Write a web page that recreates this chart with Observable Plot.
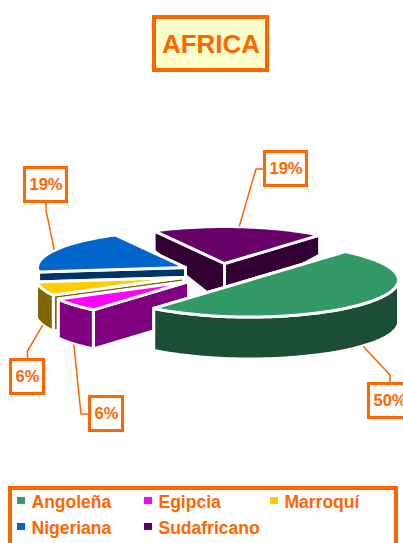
<!DOCTYPE html>
<html><head><meta charset="utf-8">
<script src="https://cdn.jsdelivr.net/npm/d3@7"></script>
<script src="https://cdn.jsdelivr.net/npm/@observablehq/plot@0.6"></script>
<style>html,body{margin:0;padding:0;background:#fff;overflow:hidden}svg{display:block}</style>
</head><body><div id="chart"></div>
<script>
const title = "AFRICA";
const categories = ["Angoleña","Egipcia","Marroquí","Nigeriana","Sudafricano"];
const shares = [50,6,6,19,19];
const topColors = ["#339966","#FF00FF","#FFCC00","#0066CC","#660066"];
const wallColors = ["#1C4E36","#800080","#806600","#003366","#330033"];
const orange = "#FF6600";

// exploded-pie placement of each slice
const apexX = [249,188,183,185,224];
const apexY = [279.5,281,277,267,263];
const rimDepth = [42,39,36,30,20];
const apexDepth = [42,39,36,30,43];
const radiusXs = [149,148,148,148,148];
const radiusY = 37, startDeg = 50;

// data-label boxes
const labelX = [389.5,106,27,45.5,285.5];
const labelY = [400.5,413.5,376.5,184.5,168.5];
const labelSide = ["top","left","top","bottom","left"];

const rad = d => d*Math.PI/180;
let cum = 0;
const slices = categories.map((name,i)=>{
  const t0 = startDeg - cum*3.6; cum += shares[i];
  const t1 = startDeg - cum*3.6;
  return {name,i,t0,t1};
});
const rim = (s,t,dy=0)=>({x:apexX[s.i]+radiusXs[s.i]*Math.cos(rad(t)), y:apexY[s.i]-radiusY*Math.sin(rad(t))+dy});
const arc = (s,a,b,dy=0)=>{const n=Math.max(2,Math.ceil(Math.abs(b-a)/2)+1);return d3.range(n).map(k=>rim(s,a+(b-a)*k/(n-1),dy));};
const poly = (pts,fill)=>Plot.line([...pts,pts[0]],{x:"x",y:"y",fill,stroke:"#fff",strokeWidth:3,strokeLinejoin:"round"});

const marks = [];
[...slices].reverse().forEach(s=>{
  const i=s.i, ax=apexX[i], ay=apexY[i], rd=rimDepth[i], ad=apexDepth[i];
  [s.t1,s.t0].forEach(t=>{
    const r=rim(s,t);
    marks.push(poly([{x:ax,y:ay},r,{x:r.x,y:r.y+rd},{x:ax,y:ay+ad}],wallColors[i]));
  });
  const from=Math.max(s.t1,-180), to=Math.min(s.t0,0);
  if(from<to) marks.push(poly([...arc(s,from,to),...arc(s,to,from,rd)],wallColors[i]));
  marks.push(poly([{x:ax,y:ay},...arc(s,s.t0,s.t1)],topColors[i]));
});

// labels and leaders
const boxW = v=> v>=10?42:33, boxH = 34;
slices.forEach(s=>{
  const i=s.i, mid=(s.t0+s.t1)/2, front=Math.sin(rad(mid))<0;
  const a=rim(s,mid,front?rimDepth[i]+1:-1);
  const w=boxW(shares[i]), lx=labelX[i], ly=labelY[i];
  const edge=labelSide[i]==="top"?{x:lx,y:ly-boxH/2}:labelSide[i]==="bottom"?{x:lx,y:ly+boxH/2}:{x:lx-w/2,y:ly};
  const elbow=labelSide[i]==="top"?{x:edge.x,y:edge.y-9}:labelSide[i]==="bottom"?{x:edge.x,y:edge.y+8}:{x:edge.x-9,y:edge.y};
  marks.push(Plot.line([a,elbow,edge],{x:"x",y:"y",stroke:orange,strokeWidth:1.5}));
  marks.push(Plot.rect([{}],{x1:lx-w/2,x2:lx+w/2,y1:ly-boxH/2,y2:ly+boxH/2,fill:"#fff",stroke:orange,strokeWidth:3}));
  marks.push(Plot.text([shares[i]+"%"],{x:lx,y:ly,text:d=>d,fill:orange,fontSize:16.5,fontWeight:"bold",fontFamily:"Liberation Sans",lineAnchor:"middle"}));
});

// title
marks.push(Plot.rect([{}],{x1:154,x2:267,y1:17,y2:70,fill:"#FFFFCC",stroke:orange,strokeWidth:4}));
marks.push(Plot.text([title],{x:210.5,y:44,text:d=>d,fill:orange,fontSize:26,fontWeight:"bold",fontFamily:"Liberation Sans",lineAnchor:"middle"}));

// legend
const legendColX=[17,144,270], legendRowY=[500.5,526.5];
marks.push(Plot.rect([{}],{x1:10,x2:396,y1:488,y2:565,fill:"#fff",stroke:orange,strokeWidth:4}));
const legend=slices.map(s=>({name:s.name,c:topColors[s.i],x:legendColX[s.i%3],y:legendRowY[Math.floor(s.i/3)]}));
marks.push(Plot.rect(legend,{x1:d=>d.x,x2:d=>d.x+8,y1:d=>d.y-3.5,y2:d=>d.y+3.5,fill:"c"}));
marks.push(Plot.text(legend,{x:d=>d.x+14,y:d=>d.y+1.5,text:"name",textAnchor:"start",fill:orange,fontSize:17.5,fontWeight:"bold",fontFamily:"Liberation Sans",lineAnchor:"middle"}));

document.getElementById("chart").append(Plot.plot({
  width:403,height:543,margin:0,
  x:{domain:[0,403],range:[0,403],axis:null},
  y:{domain:[0,543],range:[0,543],axis:null},
  color:{type:"identity"},
  marks
}));
</script></body></html>
